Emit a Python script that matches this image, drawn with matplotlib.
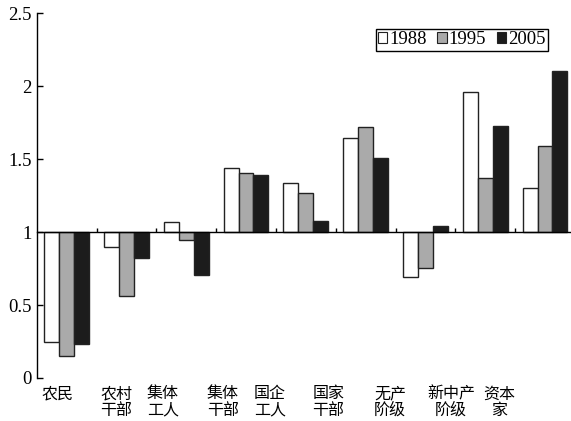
import matplotlib
matplotlib.use("Agg")
import matplotlib.pyplot as plt
import numpy as np
from matplotlib.patches import Patch

categories = ["农民", "农村\n干部", "集体\n工人", "集体\n干部", "国企\n工人",
              "国家\n干部", "无产\n阶级", "新中产\n阶级", "资本\n家"]
series_names = ["1988", "1995", "2005"]
v1988 = [0.245, 0.899, 1.066, 1.441, 1.336, 1.645, 0.690, 1.958, 1.300]
v1995 = [0.153, 0.560, 0.946, 1.407, 1.270, 1.718, 0.754, 1.369, 1.592]
v2005 = [0.231, 0.820, 0.706, 1.389, 1.078, 1.510, 1.044, 1.727, 2.104]
yticks = [0, 0.5, 1, 1.5, 2, 2.5]
ytick_labels = ["0", "0.5", "1", "1.5", "2", "2.5"]

# layout (label offsets from category centres, in category units)
label_offsets = [-0.15, -0.17, -0.39, -0.39, -0.60, -0.62, -0.59, -0.57, -0.77]
colors = ["#ffffff", "#aaaaaa", "#1c1c1c"]
baseline = 1.0

fig = plt.figure(figsize=(5.71, 4.21), dpi=100)
ax = fig.add_axes([36.7 / 571, 43 / 421, 538.2 / 571, 364.7 / 421])

x = np.arange(len(categories))
w = 0.25
for k, (vals, c, name) in enumerate(zip([v1988, v1995, v2005], colors, series_names)):
    heights = np.array(vals) - baseline
    ax.bar(x + (k - 1) * w, heights, width=w, bottom=baseline, color=c,
           edgecolor="#222222", linewidth=1.0, label=name, zorder=3)

ax.set_xlim(-0.5, len(categories) - 0.5)
ax.set_ylim(0, 2.5)
ax.spines["top"].set_visible(False)
ax.spines["right"].set_visible(False)
ax.spines["bottom"].set_position(("data", baseline))
ax.spines["bottom"].set_zorder(4)
ax.spines["left"].set_linewidth(1.0)
ax.spines["bottom"].set_linewidth(1.0)

ax.set_xticks(np.arange(0.5, len(categories) - 0.5, 1.0))
ax.set_xticklabels([])
ax.tick_params(axis="x", direction="in", length=3, width=1)
ax.set_yticks(yticks)
ax.set_yticklabels(ytick_labels, fontfamily="Liberation Serif", fontsize=13.5)
ax.tick_params(axis="y", direction="in", length=4, width=1, pad=3.5)

for i, (lab, off) in enumerate(zip(categories, label_offsets)):
    ax.text(i + off, -0.02, lab, transform=ax.get_xaxis_transform(),
            ha="center", va="top", fontsize=11.5, linespacing=0.95,
            fontfamily=["Noto Sans CJK SC", "DejaVu Sans"])

handles = [Patch(facecolor=c, edgecolor="#222222", linewidth=0.8) for c in colors]
leg = ax.legend(handles, series_names, ncol=3, loc="upper right",
                bbox_to_anchor=((548 - 36.7) / 538.2, (421 - 29 - 43) / 364.7),
                prop={"family": "Liberation Serif", "size": 13.5},
                handlelength=0.5, handleheight=0.5, handletextpad=0.1,
                columnspacing=0.58, borderpad=0.12, borderaxespad=0,
                fancybox=False, frameon=True, framealpha=1)
leg.get_frame().set_edgecolor("black")
leg.get_frame().set_linewidth(1.0)

fig.savefig("out.png", dpi=100)
